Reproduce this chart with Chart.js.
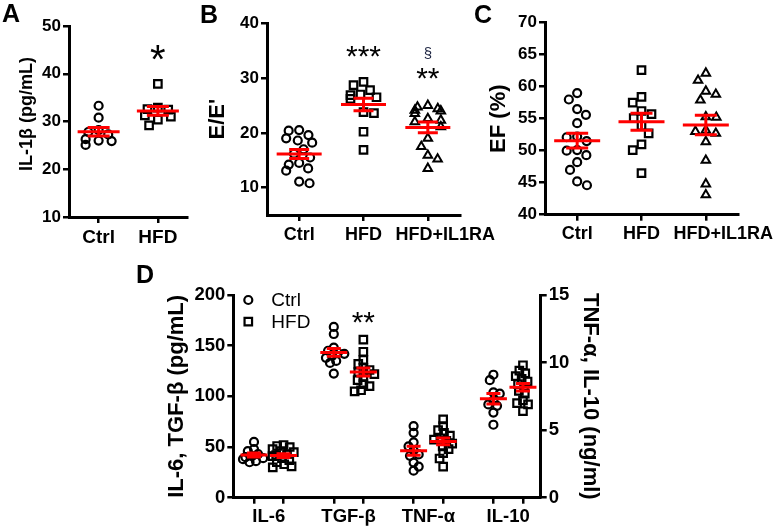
<!DOCTYPE html>
<html><head><meta charset="utf-8">
<script src="https://cdn.jsdelivr.net/npm/chart.js@4.4.1/dist/chart.umd.min.js"></script>
<style>
html,body{margin:0;padding:0;background:#fff;width:775px;height:529px;overflow:hidden;position:relative}
canvas{position:absolute;display:block}
.letter{position:absolute;font:bold 25px/1 "Liberation Sans",Arial,sans-serif;color:#000}
</style></head><body>
<canvas id="cA" width="195" height="250" style="left:0;top:0"></canvas>
<canvas id="cB" width="320" height="250" style="left:195px;top:0"></canvas>
<canvas id="cC" width="340" height="250" style="left:465px;top:0"></canvas>
<canvas id="cD" width="775" height="274" style="left:0;top:255px"></canvas>
<div class="letter" style="left:2px;top:1px">A</div>
<div class="letter" style="left:200px;top:2px">B</div>
<div class="letter" style="left:474px;top:2px">C</div>
<div class="letter" style="left:136px;top:262px">D</div>
<script>
// ---------- DATA ----------
const catsA = ['Ctrl', 'HFD'];
const il1bCtrl = [33.3, 30.8, 28.2, 27.8, 27.3, 26.3, 25.9, 25.1, 26.0];
const il1bHfd = [37.9, 32.9, 32.6, 32.5, 31.3, 31.0, 30.4, 29.2];
const ticksA = [10, 20, 30, 40, 50];

const catsB = ['Ctrl', 'HFD', 'HFD+IL1RA'];
const eeCtrl = [20.5, 20.4, 19.6, 19.0, 18.6, 18.2, 17.0, 16.2, 15.5, 14.5, 14.2, 13.5, 13.1, 11.1, 10.8];
const eeHfd = [29.3, 28.7, 27.8, 26.5, 27.0, 26.9, 26.2, 23.8, 23.6, 20.2, 16.9];
const eeIl1ra = [25.0, 24.7, 24.4, 24.1, 24.0, 23.5, 22.6, 22.3, 22.0, 21.1, 19.0, 17.5, 15.9, 15.2, 13.5];
const ticksB = [10, 20, 30, 40];

const catsC = ['Ctrl', 'HFD', 'HFD+IL1RA'];
const efCtrl = [59.0, 58.0, 56.5, 55.6, 54.3, 52.2, 52.1, 51.5, 50.1, 50.0, 49.3, 48.2, 47.0, 45.2, 44.6];
const efHfd = [62.6, 58.4, 57.5, 56.2, 55.7, 55.1, 53.9, 52.7, 51.0, 50.1, 46.5];
const efIl1ra = [62.1, 61.0, 59.3, 58.8, 57.9, 53.0, 55.3, 55.2, 53.2, 52.7, 51.4, 48.5, 44.8, 43.1];
const ticksC = [40, 45, 50, 55, 60, 65, 70];

const catsD = ['IL-6', 'TGF-β', 'TNF-α', 'IL-10'];
const seriesD = ['Ctrl', 'HFD'];
const il6Ctrl = [55, 48, 46, 43, 41, 40, 39, 38, 36, 35];
const il6Hfd = [52, 51, 50, 48, 46, 45, 43, 42, 41, 39, 37, 35, 33, 31, 30];
const tgfCtrl = [168.5, 161.5, 148, 145, 143, 142, 140, 138, 135, 133, 122.5];
const tgfHfd = [156, 144, 136, 132, 128, 126, 124, 122, 119, 116, 112, 110, 106, 105];
const tnfCtrl = [5.3, 4.8, 4.1, 3.8, 3.5, 3.2, 3.1, 2.6, 2.3, 2.0];
const tnfHfd = [5.8, 5.3, 5.0, 4.8, 4.6, 4.4, 4.3, 4.2, 4.0, 3.8, 3.6, 3.3, 2.9, 2.3];
const il10Ctrl = [9.1, 8.7, 7.8, 7.7, 7.2, 6.9, 6.8, 6.3, 5.4];
const il10Hfd = [9.8, 9.4, 9.2, 9.0, 8.8, 8.6, 8.4, 8.2, 7.9, 7.7, 7.2, 7.0, 6.9, 6.4];
const ticksDLeft = [0, 50, 100, 150, 200];
const ticksDRight = [0, 5, 10, 15];

// ---------- SETUP ----------
const FONT = '"Liberation Sans", Arial, sans-serif';
Chart.defaults.font.family = FONT;
Chart.defaults.color = '#000';

function swarm(ys, diam, maxHalf) {
  const order = ys.map((y, i) => i).sort((a, b) => ys[a] - ys[b]);
  const placed = [];
  const xs = new Array(ys.length).fill(0);
  let lastSign = 1;
  for (const i of order) {
    const y = ys[i];
    const near = placed.filter(p => Math.abs(p.y - y) < diam);
    const cands = [0];
    near.forEach(p => {
      const dx = Math.sqrt(diam * diam - (p.y - y) ** 2);
      cands.push(p.x + dx, p.x - dx);
    });
    cands.sort((a, b) => (Math.abs(a) - Math.abs(b)) || (lastSign > 0 ? a - b : b - a));
    let best = cands[0];
    for (const c of cands) {
      if (near.every(p => (p.x - c) ** 2 + (p.y - y) ** 2 >= diam * diam - 0.01)) { best = c; break; }
    }
    best = Math.max(-maxHalf, Math.min(maxHalf, best));
    if (best !== 0) lastSign = Math.sign(best);
    xs[i] = best;
    placed.push({x: best, y});
  }
  return xs;
}

const swarmPlugin = {
  id: 'swarm',
  afterDatasetsUpdate(chart, args, opts) {
    chart.data.datasets.forEach((ds, i) => {
      const els = chart.getDatasetMeta(i).data;
      const off = swarm(els.map(e => e.y), opts.diam, opts.maxHalf);
      els.forEach((e, k) => { e.x += off[k]; });
    });
  }
};

const meanPlugin = {
  id: 'meanSem',
  afterDatasetsDraw(chart, args, opts) {
    const ctx = chart.ctx;
    ctx.save();
    ctx.strokeStyle = '#ff0000';
    ctx.lineWidth = opts.lw;
    chart.data.datasets.forEach((ds, i) => {
      const meta = chart.getDatasetMeta(i);
      const xs = chart.scales[meta.xAxisID], ys = chart.scales[meta.yAxisID];
      const vals = ds.data.map(p => p.y);
      const n = vals.length;
      const mean = vals.reduce((a, b) => a + b, 0) / n;
      const sd = Math.sqrt(vals.reduce((a, b) => a + (b - mean) ** 2, 0) / (n - 1));
      const sem = sd / Math.sqrt(n);
      const cx = xs.getPixelForValue(ds.data[0].x);
      const pm = ys.getPixelForValue(mean), pt = ys.getPixelForValue(mean + sem), pb = ys.getPixelForValue(mean - sem);
      ctx.beginPath();
      ctx.moveTo(cx - opts.hw, pm); ctx.lineTo(cx + opts.hw, pm);
      ctx.moveTo(cx, pt); ctx.lineTo(cx, pb);
      ctx.moveTo(cx - opts.cw, pt); ctx.lineTo(cx + opts.cw, pt);
      ctx.moveTo(cx - opts.cw, pb); ctx.lineTo(cx + opts.cw, pb);
      ctx.stroke();
    });
    ctx.restore();
  }
};

const notePlugin = {
  id: 'notes',
  afterDatasetsDraw(chart, args, opts) {
    const ctx = chart.ctx;
    (opts.items || []).forEach(it => {
      const ds = chart.data.datasets[it.ds];
      const meta = chart.getDatasetMeta(it.ds);
      const xs = chart.scales[meta.xAxisID], ys = chart.scales[meta.yAxisID];
      const maxV = Math.max(...ds.data.map(p => p.y));
      const x = xs.getPixelForValue(ds.data[0].x);
      const y = ys.getPixelForValue(maxV) - it.dy;
      ctx.save();
      ctx.font = it.font;
      ctx.fillStyle = it.color || '#000';
      ctx.textAlign = 'center';
      ctx.textBaseline = 'alphabetic';
      ctx.fillText(it.text, x, y);
      ctx.restore();
    });
  }
};

const legendPlugin = {
  id: 'insideLegend',
  afterDraw(chart, args, opts) {
    if (!opts.items) return;
    const {ctx, chartArea} = chart;
    opts.items.forEach((it, k) => {
      const x = chartArea.left + opts.dx, y = chartArea.top + opts.dy + k * opts.gap;
      ctx.save();
      ctx.strokeStyle = '#000';
      ctx.lineWidth = 2.2;
      ctx.beginPath();
      if (it.style === 'circle') ctx.arc(x, y, 4, 0, Math.PI * 2);
      else ctx.rect(x - 3.75, y - 3.75, 7.5, 7.5);
      ctx.stroke();
      ctx.fillStyle = '#000';
      ctx.font = '19px ' + FONT;
      ctx.textAlign = 'left';
      ctx.textBaseline = 'middle';
      ctx.fillText(it.text, x + opts.tx, y + 1);
      ctx.restore();
    });
  }
};

const STY = {
  circle: {pointStyle: 'circle', pointRadius: 4, pointBorderWidth: 2.2},
  rect: {pointStyle: 'rect', pointRadius: 5.3, pointBorderWidth: 2.2},
  triangle: {pointStyle: 'triangle', pointRadius: 4.9, pointBorderWidth: 2}
};

function makeDs(vals, xPos, style, yAxisID) {
  return Object.assign({
    data: vals.map(v => ({x: xPos, y: v})),
    showLine: false,
    pointBackgroundColor: 'rgba(0,0,0,0)',
    pointBorderColor: '#000',
    yAxisID: yAxisID || 'y'
  }, STY[style]);
}

const gridCfg = {display: true, drawOnChartArea: false, drawTicks: true, tickLength: 6, color: '#000', lineWidth: 2.5};
const borderCfg = {display: true, color: '#000', width: 3};

function yAxis(o) {
  return {
    type: 'linear', position: o.pos || 'left', min: o.min, max: o.max,
    afterBuildTicks: s => { s.ticks = o.ticks.map(v => ({value: v})); },
    afterFit: s => { s.width = o.width; },
    border: borderCfg, grid: gridCfg,
    ticks: {color: '#000', font: {size: o.fsize || 17, weight: 'bold'}, padding: 2, autoSkip: false},
    title: {display: true, text: o.title, color: '#000', font: {size: o.tsize, weight: 'bold'}, padding: {top: o.tpad, bottom: 0}}
  };
}
// long category names sit a little right of their tick, as in the original
const padLong = s => (s.length > 6 ? '\u00a0'.repeat(7) + s : s);
function xAxis(o) {
  return {
    type: 'linear', position: 'bottom', min: o.min, max: o.max,
    afterBuildTicks: s => { s.ticks = o.tickVals.map(v => ({value: v})); },
    afterFit: s => { s.height = o.height; },
    border: borderCfg, grid: gridCfg,
    ticks: {color: '#000', padding: o.pad || 3, autoSkip: false,
      font: {size: o.fsize || 18, weight: 'bold'},
      maxRotation: 0, minRotation: 0, labelOffset: o.labelOffset || 0,
      callback: (v, i) => o.label(i)}
  };
}
function baseOptions(padding, scales, plugs) {
  return {
    responsive: false, animation: false, events: [],
    layout: {padding},
    scales,
    plugins: Object.assign({legend: {display: false}, tooltip: {enabled: false}}, plugs)
  };
}
const PLUGS = [swarmPlugin, meanPlugin, notePlugin, legendPlugin];

// ---------- A ----------
new Chart(document.getElementById('cA'), {
  type: 'scatter',
  data: {datasets: [makeDs(il1bCtrl, 0, 'circle'), makeDs(il1bHfd, 1, 'rect')]},
  options: baseOptions({left: 0, top: 26, right: 7, bottom: 5}, {
    x: xAxis({min: -0.5, max: catsA.length - 0.5, tickVals: catsA.map((c, i) => i), label: i => catsA[i], height: 28, fsize: 19}),
    y: yAxis({min: 10, max: 50, ticks: ticksA, width: 69, title: '\u00a0\u00a0\u00a0IL-1β (pg/mL)', tsize: 18, tpad: 16})
  }, {
    swarm: {diam: 10.5, maxHalf: 13},
    meanSem: {hw: 21, cw: 11, lw: 3},
    notes: {items: [{ds: 1, text: '*', font: '40px ' + FONT, dy: 11}]}
  }),
  plugins: PLUGS
});

// ---------- B ----------
new Chart(document.getElementById('cB'), {
  type: 'scatter',
  data: {datasets: [makeDs(eeCtrl, 0, 'circle'), makeDs(eeHfd, 1, 'rect'), makeDs(eeIl1ra, 2, 'triangle')]},
  options: baseOptions({left: 0, top: 23.3, right: 55, bottom: 7}, {
    x: xAxis({min: -0.5, max: catsB.length - 0.5, tickVals: catsB.map((c, i) => i), label: i => padLong(catsB[i]), height: 28, fsize: 18}),
    y: yAxis({min: 5, max: 40, ticks: ticksB, width: 72, title: "E/E'", tsize: 22, tpad: 10.1})
  }, {
    swarm: {diam: 10.5, maxHalf: 13},
    meanSem: {hw: 22.5, cw: 10, lw: 3},
    notes: {items: [
      {ds: 1, text: '***', font: '30px ' + FONT, dy: 16},
      {ds: 2, text: '**', font: '30px ' + FONT, dy: 17},
      {ds: 2, text: '§', font: '15px ' + FONT, dy: 47, color: '#1c2340'}
    ]}
  }),
  plugins: PLUGS
});

// ---------- C ----------
new Chart(document.getElementById('cC'), {
  type: 'scatter',
  data: {datasets: [makeDs(efCtrl, 0, 'circle'), makeDs(efHfd, 1, 'rect'), makeDs(efIl1ra, 2, 'triangle')]},
  options: baseOptions({left: 0, top: 22.7, right: 67, bottom: 7.3}, {
    x: xAxis({min: -0.5, max: catsC.length - 0.5, tickVals: catsC.map((c, i) => i), label: i => padLong(catsC[i]), height: 28, fsize: 18}),
    y: yAxis({min: 40, max: 70, ticks: ticksC, width: 80, title: 'EF (%)', tsize: 22, tpad: 20.8})
  }, {
    swarm: {diam: 10.5, maxHalf: 13},
    meanSem: {hw: 23, cw: 11, lw: 3},
    notes: {items: []}
  }),
  plugins: PLUGS
});

// ---------- D ----------
const groupStartD = 0.7, groupGapD = 2.7;
const dSets = [[il6Ctrl, il6Hfd, 'y'], [tgfCtrl, tgfHfd, 'y'], [tnfCtrl, tnfHfd, 'y2'], [il10Ctrl, il10Hfd, 'y2']];
const dsD = [];
const tickPosD = [];
dSets.forEach((g, k) => {
  const xc = groupStartD + k * groupGapD;
  dsD.push(makeDs(g[0], xc, 'circle', g[2]));
  dsD.push(makeDs(g[1], xc + 1, 'rect', g[2]));
  tickPosD.push(xc, xc + 1);
});
new Chart(document.getElementById('cD'), {
  type: 'scatter',
  data: {datasets: dsD},
  options: baseOptions({left: 150, top: 40, right: 160, bottom: 3.3}, {
    x: xAxis({min: 0, max: 10.4, tickVals: tickPosD, label: i => (i % 2 === 0 ? catsD[i / 2] : ''),
      height: 28, labelOffset: 14.8, pad: 2, fsize: 18.5}),
    y: yAxis({min: 0, max: 200, ticks: ticksDLeft, width: 83.3, title: 'IL-6, TGF-β (pg/mL)', tsize: 22, tpad: 13.8, fsize: 18.5}),
    y2: yAxis({pos: 'right', min: 0, max: 15, ticks: ticksDRight, width: 74.3, title: 'TNF-α, IL-10 (ng/ml)', tsize: 22, tpad: 11.8, fsize: 18.5})
  }, {
    swarm: {diam: 6.5, maxHalf: 11},
    meanSem: {hw: 13.5, cw: 7, lw: 3},
    notes: {items: [{ds: 3, text: '**', font: '30px ' + FONT, dy: 8}]},
    insideLegend: {items: [{style: 'circle', text: seriesD[0]}, {style: 'rect', text: seriesD[1]}], dx: 15, dy: 5, gap: 21.7, tx: 23}
  }),
  plugins: PLUGS
});
</script>
</body></html>
